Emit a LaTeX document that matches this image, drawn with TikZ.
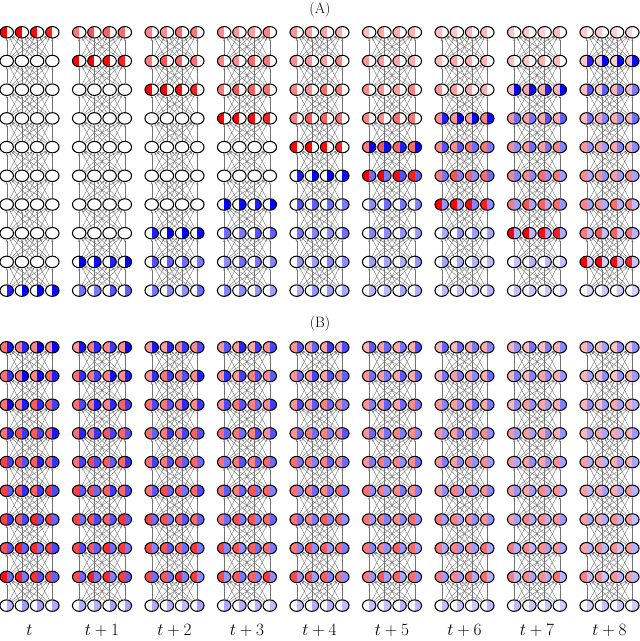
\documentclass[tikz,border=0pt]{standalone}
\usetikzlibrary{shapes.geometric,arrows.meta}
\pgfdeclarelayer{bg}
\pgfsetlayers{bg,main}
\tikzset{
  neuron/.style n args={2}{ellipse, draw=black, line width=1.05pt,
    minimum width=13.5pt, minimum height=11.5pt, inner sep=0pt,
    path picture={
      \fill[#1] (path picture bounding box.south west) rectangle (path picture bounding box.north);
      \fill[#2] (path picture bounding box.south) rectangle (path picture bounding box.north east);
    }},
  edge/.style={draw=black!55, line width=0.4pt, -{Stealth[length=2.4pt,width=2pt]}},
  paneltitle/.style={font=\fontsize{15}{17}\selectfont},
  timelabel/.style={font=\fontsize{17}{20}\selectfont},
}
\begin{document}
\begin{tikzpicture}[x=1pt,y=-1pt]
\useasboundingbox (0,0) rectangle (640,641);
\node[paneltitle] (tA) at (320,9.5) {(A)};
\node[paneltitle] (tB) at (320,324) {(B)};
\foreach \p in {0,1} {
 \foreach \k in {0,...,8} {
  \foreach \r in {1,...,10} {
   \foreach \j in {0,...,3} {
     \ifnum\p=0
       \pgfmathsetmacro\R{(\r==1+\k) ? 1 : ((\r<1+\k) ? 0.6*0.85^(\k-\r) : 0)}
       \pgfmathsetmacro\B{(\r==10-\k) ? 1 : ((\r>10-\k) ? 0.6*0.85^(\r-11+\k) : 0)}
     \else
       \pgfmathsetmacro\R{(\r<10) ? (0.5+0.35*(\r-1)/8)*(1-0.06*\k) : 0}
       \pgfmathsetmacro\B{(\r<10) ? (0.95-0.35*(\r-1)/8)*(1-0.07*\k) : 0.35*(1-0.05*\k)}
     \fi
     \pgfmathsetmacro\jl{0.88+0.08*mod(3*\j+7*\r+5*\k,4)}
     \pgfmathsetmacro\jr{0.88+0.08*mod(3*\j+7*\r+5*\k+2,4)}
     \pgfmathtruncatemacro\pR{min(100,100*\R*\jl)}
     \pgfmathtruncatemacro\pB{min(100,100*\B*\jr)}
     \node[neuron={red!\pR!white}{blue!\pB!white}] (n-\p-\k-\r-\j)
        at ({6.7+72.5*\k+15.2*\j},{32.3+315*\p+28.7*(\r-1)}) {};
   }
  }
 }
}
\begin{pgfonlayer}{bg}
\foreach \p in {0,1} {
 \foreach \k in {0,...,8} {
  \foreach \r in {1,...,9} {
   \pgfmathtruncatemacro\rr{\r+1}
   \foreach \i in {0,...,3} {
    \foreach \j in {0,...,3} {
      \draw[edge] (n-\p-\k-\rr-\i) -- (n-\p-\k-\r-\j);
    }
   }
  }
 }
}
\end{pgfonlayer}
\node[timelabel] (l0) at (29.5,630) {$t$};
\foreach \k in {1,...,8} {
  \node[timelabel] (l\k) at ({29.5+72.5*\k},630) {$t+\k$};
}
\end{tikzpicture}
\end{document}
